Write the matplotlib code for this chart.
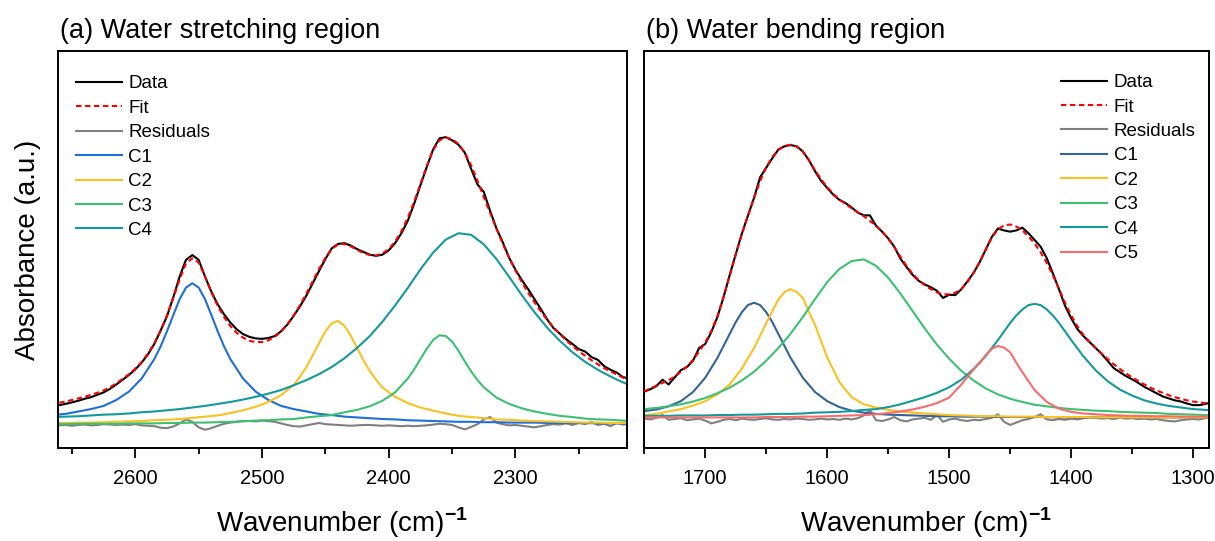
import numpy as np
import matplotlib
matplotlib.use("Agg")
import matplotlib.pyplot as plt
from matplotlib.ticker import MultipleLocator

plt.rcParams['font.family'] = ['Liberation Sans', 'DejaVu Sans']
plt.rcParams['mathtext.fontset'] = 'custom'
plt.rcParams['mathtext.rm'] = 'Liberation Sans'
plt.rcParams['mathtext.bf'] = 'Liberation Sans:bold'

# ---------------- Panel (a): water stretching region ----------------
wn_comp_a = np.arange(2665, 2200, -10)      # 2665 ... 2205
wn_data_a = np.arange(2660, 2205, -5)       # 2660 ... 2210

data_a = [0.108, 0.111, 0.115, 0.119, 0.124, 0.128, 0.134, 0.140, 0.149, 0.160,
          0.172, 0.184, 0.198, 0.215, 0.236, 0.262, 0.296, 0.332, 0.380, 0.432,
          0.474, 0.486, 0.474, 0.432, 0.394, 0.362, 0.337, 0.316, 0.299, 0.287,
          0.280, 0.276, 0.275, 0.277, 0.282, 0.294, 0.311, 0.333, 0.357, 0.384,
          0.415, 0.446, 0.476, 0.503, 0.514, 0.516, 0.510, 0.501, 0.494, 0.487,
          0.484, 0.487, 0.498, 0.516, 0.541, 0.572, 0.615, 0.662, 0.708, 0.752,
          0.780, 0.783, 0.775, 0.764, 0.744, 0.703, 0.664, 0.645, 0.597, 0.553,
          0.518, 0.479, 0.449, 0.423, 0.400, 0.375, 0.350, 0.324, 0.302, 0.288,
          0.274, 0.262, 0.249, 0.243, 0.229, 0.222, 0.206, 0.197, 0.190, 0.178, 0.176]
fit_a = [0.114, 0.117, 0.121, 0.125, 0.129, 0.134, 0.139, 0.145, 0.153, 0.163,
         0.174, 0.186, 0.200, 0.217, 0.238, 0.264, 0.296, 0.334, 0.378, 0.425,
         0.465, 0.478, 0.467, 0.432, 0.392, 0.358, 0.330, 0.307, 0.290, 0.278,
         0.270, 0.267, 0.267, 0.271, 0.280, 0.293, 0.311, 0.334, 0.360, 0.389,
         0.420, 0.451, 0.479, 0.501, 0.513, 0.514, 0.508, 0.499, 0.491, 0.486,
         0.485, 0.490, 0.501, 0.520, 0.546, 0.580, 0.620, 0.665, 0.710, 0.750,
         0.775, 0.782, 0.778, 0.766, 0.744, 0.712, 0.673, 0.632, 0.592, 0.552,
         0.514, 0.479, 0.447, 0.418, 0.391, 0.367, 0.344, 0.323, 0.304, 0.287,
         0.271, 0.257, 0.244, 0.232, 0.221, 0.211, 0.201, 0.193, 0.185, 0.177, 0.170]
resid_a = [0.057, 0.058, 0.056, 0.058, 0.059, 0.057, 0.058, 0.060, 0.059, 0.058,
           0.059, 0.058, 0.060, 0.057, 0.056, 0.055, 0.051, 0.050, 0.054, 0.062,
           0.072, 0.066, 0.052, 0.046, 0.050, 0.056, 0.061, 0.064, 0.066, 0.068,
           0.068, 0.067, 0.069, 0.068, 0.066, 0.062, 0.058, 0.055, 0.054, 0.057,
           0.060, 0.063, 0.060, 0.059, 0.058, 0.057, 0.056, 0.057, 0.058, 0.058,
           0.057, 0.056, 0.057, 0.056, 0.055, 0.056, 0.055, 0.056, 0.057, 0.059,
           0.061, 0.060, 0.058, 0.052, 0.047, 0.053, 0.060, 0.072, 0.078, 0.064,
           0.060, 0.057, 0.058, 0.056, 0.054, 0.052, 0.055, 0.058, 0.060, 0.059,
           0.062, 0.058, 0.063, 0.060, 0.066, 0.058, 0.061, 0.055, 0.063, 0.059, 0.061]
c1_a = [0.083, 0.086, 0.092, 0.098, 0.106, 0.121, 0.142, 0.175, 0.224, 0.294,
        0.375, 0.415, 0.375, 0.294, 0.224, 0.175, 0.142, 0.121, 0.106, 0.098,
        0.092, 0.086, 0.083, 0.079, 0.077, 0.075, 0.073, 0.072, 0.070, 0.069,
        0.068, 0.067, 0.066, 0.066, 0.065, 0.065, 0.064, 0.064, 0.064, 0.063,
        0.063, 0.063, 0.063, 0.062, 0.062, 0.062, 0.062]
c2_a = [0.063, 0.063, 0.064, 0.064, 0.065, 0.066, 0.067, 0.068, 0.070, 0.071,
        0.073, 0.076, 0.079, 0.082, 0.088, 0.095, 0.104, 0.116, 0.133, 0.159,
        0.204, 0.264, 0.314, 0.308, 0.252, 0.194, 0.152, 0.129, 0.113, 0.102,
        0.094, 0.087, 0.081, 0.078, 0.075, 0.072, 0.071, 0.069, 0.068, 0.067,
        0.066, 0.065, 0.064, 0.064, 0.063, 0.063, 0.062]
c3_a = [0.060, 0.060, 0.061, 0.061, 0.061, 0.061, 0.062, 0.062, 0.062, 0.063,
        0.063, 0.064, 0.064, 0.065, 0.066, 0.067, 0.069, 0.070, 0.072, 0.073,
        0.077, 0.080, 0.083, 0.090, 0.096, 0.105, 0.119, 0.140, 0.175, 0.224,
        0.272, 0.282, 0.245, 0.193, 0.153, 0.127, 0.111, 0.100, 0.092, 0.086,
        0.081, 0.078, 0.074, 0.072, 0.071, 0.069, 0.067]
c4_a = [0.078, 0.079, 0.080, 0.082, 0.084, 0.085, 0.087, 0.090, 0.092, 0.095,
        0.098, 0.102, 0.106, 0.111, 0.116, 0.122, 0.129, 0.137, 0.146, 0.158,
        0.171, 0.186, 0.204, 0.226, 0.252, 0.282, 0.318, 0.359, 0.403, 0.450,
        0.492, 0.525, 0.541, 0.537, 0.513, 0.476, 0.431, 0.385, 0.342, 0.303,
        0.270, 0.241, 0.217, 0.197, 0.180, 0.165, 0.153]
# extra readings near the component maxima (panel a)
c1_a_xx = [2580, 2570, 2560, 2550, 2540, 2530]
c1_a_xy = [0.256, 0.335, 0.404, 0.404, 0.335, 0.256]
c2_a_xx = [2470, 2460, 2450, 2440, 2430, 2420, 2410]
c2_a_xy = [0.180, 0.233, 0.294, 0.320, 0.283, 0.221, 0.172]
c3_a_xx = [2380, 2370, 2360, 2350, 2340, 2330]
c3_a_xy = [0.198, 0.250, 0.284, 0.268, 0.218, 0.171]
c4_a_xx = []
c4_a_xy = []

# ---------------- Panel (b): water bending region ----------------
wn_comp_b = np.arange(1750, 1275, -10)      # 1750 ... 1280
wn_data_b = np.arange(1750, 1280, -5)       # 1750 ... 1285

data_b = [0.142, 0.148, 0.156, 0.172, 0.160, 0.178, 0.196, 0.204, 0.220, 0.252,
          0.262, 0.292, 0.330, 0.380, 0.435, 0.488, 0.540, 0.585, 0.630, 0.682,
          0.706, 0.730, 0.752, 0.760, 0.763, 0.760, 0.747, 0.725, 0.697, 0.673,
          0.655, 0.638, 0.625, 0.617, 0.606, 0.593, 0.586, 0.586, 0.560, 0.545,
          0.528, 0.507, 0.477, 0.456, 0.436, 0.421, 0.412, 0.405, 0.396, 0.378,
          0.386, 0.385, 0.400, 0.420, 0.441, 0.468, 0.500, 0.532, 0.553, 0.548,
          0.545, 0.548, 0.555, 0.541, 0.524, 0.507, 0.478, 0.440, 0.400, 0.358,
          0.327, 0.300, 0.282, 0.267, 0.252, 0.237, 0.219, 0.201, 0.191, 0.181,
          0.173, 0.164, 0.154, 0.146, 0.138, 0.130, 0.125, 0.120, 0.117, 0.112,
          0.108, 0.108, 0.111, 0.115]
fit_b = [0.143, 0.150, 0.157, 0.164, 0.171, 0.180, 0.192, 0.205, 0.222, 0.243,
         0.266, 0.295, 0.332, 0.380, 0.433, 0.487, 0.538, 0.585, 0.630, 0.672,
         0.707, 0.733, 0.751, 0.761, 0.764, 0.759, 0.746, 0.725, 0.700, 0.677,
         0.657, 0.640, 0.626, 0.615, 0.604, 0.594, 0.584, 0.572, 0.560, 0.545,
         0.527, 0.506, 0.482, 0.459, 0.439, 0.423, 0.410, 0.400, 0.392, 0.387,
         0.387, 0.391, 0.401, 0.418, 0.441, 0.469, 0.500, 0.530, 0.551, 0.561,
         0.563, 0.558, 0.548, 0.533, 0.515, 0.493, 0.466, 0.435, 0.401, 0.366,
         0.334, 0.307, 0.285, 0.267, 0.252, 0.238, 0.224, 0.211, 0.199, 0.188,
         0.178, 0.169, 0.160, 0.152, 0.145, 0.139, 0.133, 0.128, 0.124, 0.120,
         0.117, 0.115, 0.113, 0.112]
resid_b = [0.074, 0.072, 0.076, 0.083, 0.071, 0.073, 0.075, 0.070, 0.072, 0.074,
           0.069, 0.062, 0.066, 0.071, 0.073, 0.070, 0.074, 0.072, 0.071, 0.073,
           0.075, 0.072, 0.071, 0.073, 0.072, 0.074, 0.073, 0.071, 0.072, 0.074,
           0.072, 0.073, 0.071, 0.074, 0.072, 0.075, 0.082, 0.096, 0.070, 0.068,
           0.072, 0.078, 0.070, 0.067, 0.072, 0.074, 0.076, 0.071, 0.083, 0.066,
           0.072, 0.074, 0.070, 0.068, 0.071, 0.070, 0.073, 0.076, 0.085, 0.066,
           0.058, 0.064, 0.070, 0.073, 0.078, 0.085, 0.072, 0.070, 0.073, 0.071,
           0.074, 0.072, 0.075, 0.077, 0.076, 0.074, 0.075, 0.073, 0.076, 0.074,
           0.075, 0.073, 0.074, 0.072, 0.073, 0.070, 0.068, 0.067, 0.070, 0.072,
           0.073, 0.072, 0.075, 0.078]
c1_b = [0.093, 0.097, 0.105, 0.118, 0.141, 0.177, 0.227, 0.287, 0.342, 0.366,
        0.342, 0.287, 0.227, 0.177, 0.141, 0.118, 0.103, 0.094, 0.089, 0.086,
        0.084, 0.083, 0.082, 0.081, 0.080, 0.080, 0.079, 0.079, 0.079, 0.078,
        0.078, 0.078, 0.078, 0.078, 0.077, 0.077, 0.077, 0.077, 0.077, 0.077,
        0.077, 0.077, 0.077, 0.077, 0.077, 0.077, 0.077, 0.077]
c2_b = [0.083, 0.086, 0.092, 0.098, 0.107, 0.118, 0.135, 0.160, 0.200, 0.252,
        0.314, 0.374, 0.400, 0.378, 0.310, 0.228, 0.166, 0.128, 0.110, 0.102,
        0.096, 0.092, 0.089, 0.087, 0.085, 0.083, 0.082, 0.081, 0.080, 0.080,
        0.079, 0.079, 0.079, 0.078, 0.078, 0.078, 0.078, 0.077, 0.077, 0.077,
        0.077, 0.077, 0.077, 0.077, 0.077, 0.077, 0.077, 0.077]
c3_b = [0.098, 0.101, 0.105, 0.110, 0.117, 0.126, 0.138, 0.152, 0.170, 0.192,
        0.220, 0.252, 0.288, 0.330, 0.375, 0.418, 0.451, 0.471, 0.475, 0.459,
        0.429, 0.389, 0.345, 0.301, 0.260, 0.225, 0.194, 0.170, 0.150, 0.135,
        0.124, 0.116, 0.109, 0.105, 0.101, 0.098, 0.096, 0.094, 0.093, 0.091,
        0.090, 0.089, 0.088, 0.086, 0.085, 0.084, 0.083, 0.082]
c4_b = [0.081, 0.081, 0.081, 0.082, 0.082, 0.082, 0.083, 0.083, 0.084, 0.084,
        0.085, 0.086, 0.086, 0.087, 0.089, 0.090, 0.091, 0.093, 0.096, 0.098,
        0.103, 0.110, 0.119, 0.128, 0.139, 0.153, 0.172, 0.199, 0.232, 0.272,
        0.315, 0.349, 0.363, 0.349, 0.315, 0.272, 0.231, 0.196, 0.168, 0.147,
        0.132, 0.120, 0.112, 0.106, 0.102, 0.098, 0.096, 0.093]
c5_b = [0.077, 0.077, 0.077, 0.077, 0.077, 0.077, 0.077, 0.077, 0.077, 0.077,
        0.078, 0.078, 0.078, 0.079, 0.079, 0.080, 0.081, 0.082, 0.083, 0.085,
        0.088, 0.092, 0.097, 0.104, 0.113, 0.127, 0.160, 0.198, 0.234, 0.257,
        0.241, 0.191, 0.146, 0.116, 0.099, 0.091, 0.087, 0.085, 0.083, 0.082,
        0.081, 0.081, 0.080, 0.080, 0.079, 0.079, 0.079, 0.079]
# extra readings near the component maxima (panel b)
c1_b_xx = [1675, 1665, 1655, 1645]
c1_b_xy = [0.317, 0.360, 0.360, 0.317]
c2_b_xx = [1645, 1635, 1625, 1615]
c2_b_xy = [0.345, 0.393, 0.393, 0.343]
c3_b_xx = []
c3_b_xy = []
c4_b_xx = [1445, 1435, 1425, 1415]
c4_b_xy = [0.334, 0.360, 0.360, 0.334]
c5_b_xx = [1475, 1465, 1455, 1445]
c5_b_xy = [0.214, 0.250, 0.253, 0.215]

titles = ["(a) Water stretching region", "(b) Water bending region"]
comp_labels_a = ["C1", "C2", "C3", "C4"]
comp_labels_b = ["C1", "C2", "C3", "C4", "C5"]
colors_a = ["#1E6FD9", "#FBC121", "#3CC172", "#139A9A"]
colors_b = ["#34639A", "#FBC121", "#3CC172", "#139A9A", "#F76D6D"]


def merged(xbase, ybase, xextra, yextra):
    """Combine the regular samples with the extra samples read near a maximum."""
    x = np.concatenate([np.asarray(xbase, float), np.asarray(xextra, float)])
    y = np.concatenate([np.asarray(ybase, float), np.asarray(yextra, float)])
    order = np.argsort(-x)
    return x[order], y[order]


comps_a = [merged(wn_comp_a, c1_a, c1_a_xx, c1_a_xy),
           merged(wn_comp_a, c2_a, c2_a_xx, c2_a_xy),
           merged(wn_comp_a, c3_a, c3_a_xx, c3_a_xy),
           merged(wn_comp_a, c4_a, c4_a_xx, c4_a_xy)]
comps_b = [merged(wn_comp_b, c1_b, c1_b_xx, c1_b_xy),
           merged(wn_comp_b, c2_b, c2_b_xx, c2_b_xy),
           merged(wn_comp_b, c3_b, c3_b_xx, c3_b_xy),
           merged(wn_comp_b, c4_b, c4_b_xx, c4_b_xy),
           merged(wn_comp_b, c5_b, c5_b_xx, c5_b_xy)]

fig = plt.figure(figsize=(12.15, 5.41), dpi=100)
axA = fig.add_axes([58 / 1215, 1 - 448 / 541, 569 / 1215, 397 / 541])
axB = fig.add_axes([644 / 1215, 1 - 448 / 541, 565 / 1215, 397 / 541])


def draw(ax, wn_d, data, fit, resid, comps, labels, colors, xlim, title):
    ax.plot(wn_d, data, color="black", lw=1.5, label="Data", zorder=3)
    ax.plot(wn_d, fit, color="#FF0000", lw=1.5, ls=(0, (2.6, 1.7)), label="Fit", zorder=4)
    ax.plot(wn_d, resid, color="#808080", lw=1.5, label="Residuals", zorder=2)
    for (xv, yv), lab, col in zip(comps, labels, colors):
        ax.plot(xv, yv, color=col, lw=1.5, label=lab, zorder=2.5)
    ax.set_xlim(*xlim)
    ax.set_ylim(0, 1)
    ax.set_yticks([])
    ax.xaxis.set_major_locator(MultipleLocator(100))
    ax.xaxis.set_minor_locator(MultipleLocator(50))
    ax.tick_params(axis="x", which="major", direction="out", length=7, width=1.3,
                   labelsize=14.5, pad=8, top=False)
    ax.tick_params(axis="x", which="minor", direction="out", length=4, width=1.3, top=False)
    for sp in ax.spines.values():
        sp.set_linewidth(1.4)
    ax.set_title(title, loc="left", fontsize=19.5, pad=9, x=0.004)
    ax.set_xlabel(r"Wavenumber (cm)$^{\mathbf{-1}}$", fontsize=20, labelpad=13)


draw(axA, wn_data_a, data_a, fit_a, resid_a, comps_a, comp_labels_a, colors_a,
     (2661, 2212), titles[0])
draw(axB, wn_data_b, data_b, fit_b, resid_b, comps_b, comp_labels_b, colors_b,
     (1750.2, 1287), titles[1])

axA.set_ylabel("Absorbance (a.u.)", fontsize=20)
axA.yaxis.set_label_coords(-0.03, 0.5)

axA.legend(loc="upper left", bbox_to_anchor=(0.031, 0.939), frameon=False, fontsize=13.5,
           handlelength=2.45, handletextpad=0.35, labelspacing=0.39, borderpad=0,
           borderaxespad=0)
axB.legend(loc="upper right", bbox_to_anchor=(0.976, 0.942), frameon=False, fontsize=13.5,
           handlelength=2.45, handletextpad=0.35, labelspacing=0.39, borderpad=0,
           borderaxespad=0)

fig.savefig("out.png", dpi=100)
